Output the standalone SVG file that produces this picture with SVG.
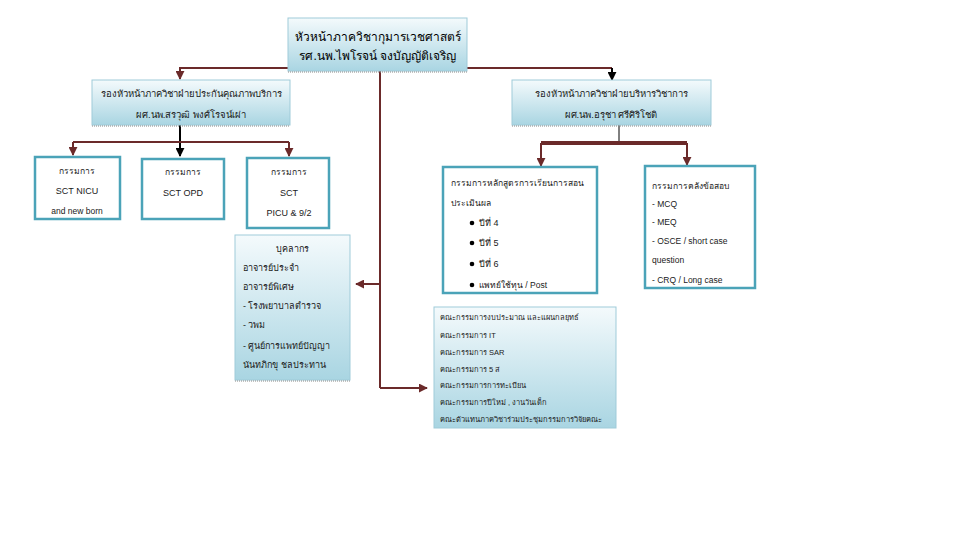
<svg xmlns="http://www.w3.org/2000/svg" width="960" height="540" viewBox="0 0 960 540">
<defs>
<linearGradient id="g" x1="0" y1="0" x2="0" y2="1">
<stop offset="0" stop-color="#f4fafc"/>
<stop offset="1" stop-color="#a9d5e2"/>
</linearGradient>
<marker id="am" viewBox="0 0 10 10" refX="9" refY="5" markerWidth="4.5" markerHeight="4.5" orient="auto"><path d="M0,0 L10,5 L0,10 Z" fill="#6b2a2a"/></marker>
<marker id="ak" viewBox="0 0 10 10" refX="9" refY="5" markerWidth="4.5" markerHeight="4.5" orient="auto"><path d="M0,0 L10,5 L0,10 Z" fill="#000"/></marker>
<style>
text{font-family:"Liberation Sans","DejaVu Sans",sans-serif;fill:#1a1a1a}
.gb{fill:url(#g);stroke:#9fcbd9;stroke-width:1}
.sh{stroke:#888;stroke-width:1;stroke-dasharray:1 1}
.wb{fill:#fff;stroke:#4ba3b8;stroke-width:2.5}
.c{stroke:#6b2a2a;stroke-width:2;fill:none}
.k{stroke:#000;stroke-width:2;fill:none}
.t13{font-size:12px;fill:#000}
.t10{font-size:9.5px}
.t9{font-size:9px}
.t8{font-size:8.5px}
.t7{font-size:7.5px}
</style>
</defs>
<rect width="960" height="540" fill="#fff"/>

<g id="connectors">
<path class="c" d="M288,68 H180 V79" marker-end="url(#am)"/>
<path class="c" d="M467,68 H612"/>
<path class="k" d="M612,68 V80" marker-end="url(#ak)"/>
<path class="c" d="M380,71 V388"/>
<path class="c" d="M380,284 H356" marker-end="url(#am)"/>
<path class="c" d="M380,388 H427" marker-end="url(#am)"/>
<path class="k" d="M180,125 V156" marker-end="url(#ak)"/>
<path class="c" d="M73,142 H289"/>
<path class="c" d="M73,142 V155" marker-end="url(#am)"/>
<path class="c" d="M289,142 V156" marker-end="url(#am)"/>
<path stroke="#000" stroke-width="1" d="M619,125 V143"/>
<path stroke="#6b2a2a" stroke-width="4" d="M541,143 H687"/>
<path class="c" d="M541,143 V166" marker-end="url(#am)"/>
<path class="c" d="M687,143 V165" marker-end="url(#am)"/>
</g>

<g id="head">
<rect class="gb" x="288" y="18" width="179" height="53"/>
<line class="sh" x1="288" y1="72" x2="467" y2="72"/>
<text class="t13" x="378" y="41" text-anchor="middle">หัวหน้าภาควิชากุมารเวชศาสตร์</text>
<text class="t13" x="378" y="60" text-anchor="middle">รศ.นพ.ไพโรจน์  จงบัญญัติเจริญ</text>
</g>

<g id="deputy-left">
<rect class="gb" x="92" y="80" width="198" height="45"/>
<line class="sh" x1="92" y1="126" x2="290" y2="126"/>
<text class="t10" x="191" y="97" text-anchor="middle">รองหัวหน้าภาควิชาฝ่ายประกันคุณภาพบริการ</text>
<text class="t10" x="191" y="118" text-anchor="middle">ผศ.นพ.สรวุฒิ  พงศ์โรจน์เผ่า</text>
</g>

<g id="deputy-right">
<rect class="gb" x="512" y="80" width="199" height="45"/>
<line class="sh" x1="512" y1="126" x2="711" y2="126"/>
<text class="t10" x="611" y="97" text-anchor="middle">รองหัวหน้าภาควิชาฝ่ายบริหารวิชาการ</text>
<text class="t10" x="611" y="118" text-anchor="middle">ผศ.นพ.อรุชา  ศรีศิริโชติ</text>
</g>

<g id="sct-nicu">
<rect class="wb" x="35" y="157" width="85" height="62"/>
<text class="t8" x="77" y="174" text-anchor="middle">กรรมการ</text>
<text class="t9" x="77" y="194" text-anchor="middle">SCT NICU</text>
<text class="t8" x="77" y="214" text-anchor="middle">and new born</text>
</g>

<g id="sct-opd">
<rect class="wb" x="142" y="159" width="82" height="60"/>
<text class="t8" x="183" y="175" text-anchor="middle">กรรมการ</text>
<text class="t9" x="183" y="196" text-anchor="middle">SCT OPD</text>
</g>

<g id="sct-picu">
<rect class="wb" x="247" y="158" width="82" height="70" stroke-width="3.5"/>
<text class="t8" x="289" y="175" text-anchor="middle">กรรมการ</text>
<text class="t9" x="289" y="196" text-anchor="middle">SCT</text>
<text class="t9" x="289" y="216" text-anchor="middle">PICU &amp; 9/2</text>
</g>

<g id="curriculum">
<rect class="wb" x="443" y="167" width="154" height="126"/>
<text class="t8" x="451" y="186">กรรมการหลักสูตรการเรียนการสอน</text>
<text class="t8" x="451" y="206">ประเมินผล</text>
<circle cx="472" cy="223" r="2.3" fill="#000"/><text class="t9" x="479" y="226">ปีที่ 4</text>
<circle cx="472" cy="243" r="2.3" fill="#000"/><text class="t9" x="479" y="246">ปีที่ 5</text>
<circle cx="472" cy="264" r="2.3" fill="#000"/><text class="t9" x="479" y="267">ปีที่ 6</text>
<circle cx="472" cy="285" r="2.3" fill="#000"/><text class="t8" x="479" y="288">แพทย์ใช้ทุน / Post</text>
</g>

<g id="exam-bank">
<rect class="wb" x="645" y="166" width="110" height="122"/>
<text class="t8" x="652" y="189">กรรมการคลังข้อสอบ</text>
<text class="t8" x="652" y="207">- MCQ</text>
<text class="t8" x="652" y="225">- MEQ</text>
<text class="t8" x="652" y="244">-  OSCE / short case</text>
<text class="t8" x="652" y="263">question</text>
<text class="t8" x="652" y="283">-  CRQ / Long case</text>
</g>

<g id="personnel">
<rect class="gb" x="235" y="235" width="115" height="145"/>
<line class="sh" x1="235" y1="381" x2="350" y2="381"/>
<text class="t9" x="292" y="252" text-anchor="middle">บุคลากร</text>
<text class="t9" x="243" y="271">อาจารย์ประจำ</text>
<text class="t9" x="243" y="290">อาจารย์พิเศษ</text>
<text class="t9" x="243" y="309">- โรงพยาบาลตำรวจ</text>
<text class="t9" x="243" y="328">-  วพม</text>
<text class="t9" x="243" y="349">- ศูนย์การแพทย์ปัญญา</text>
<text class="t9" x="243" y="368">นันทภิกขุ ชลประทาน</text>
</g>

<g id="committees">
<rect class="gb" x="434" y="307" width="182" height="121"/>
<text class="t7" x="440" y="320">คณะกรรมการงบประมาณ และแผนกลยุทธ์</text>
<text class="t7" x="440" y="338">คณะกรรมการ IT</text>
<text class="t7" x="440" y="355">คณะกรรมการ SAR</text>
<text class="t7" x="440" y="372">คณะกรรมการ 5 ส</text>
<text class="t7" x="440" y="388">คณะกรรมการการทะเบียน</text>
<text class="t7" x="440" y="405">คณะกรรมการปีใหม่ , งานวันเด็ก</text>
<text class="t7" x="440" y="422">คณะตัวแทนภาควิชาร่วมประชุมกรรมการวิจัยคณะ</text>
</g>
</svg>
